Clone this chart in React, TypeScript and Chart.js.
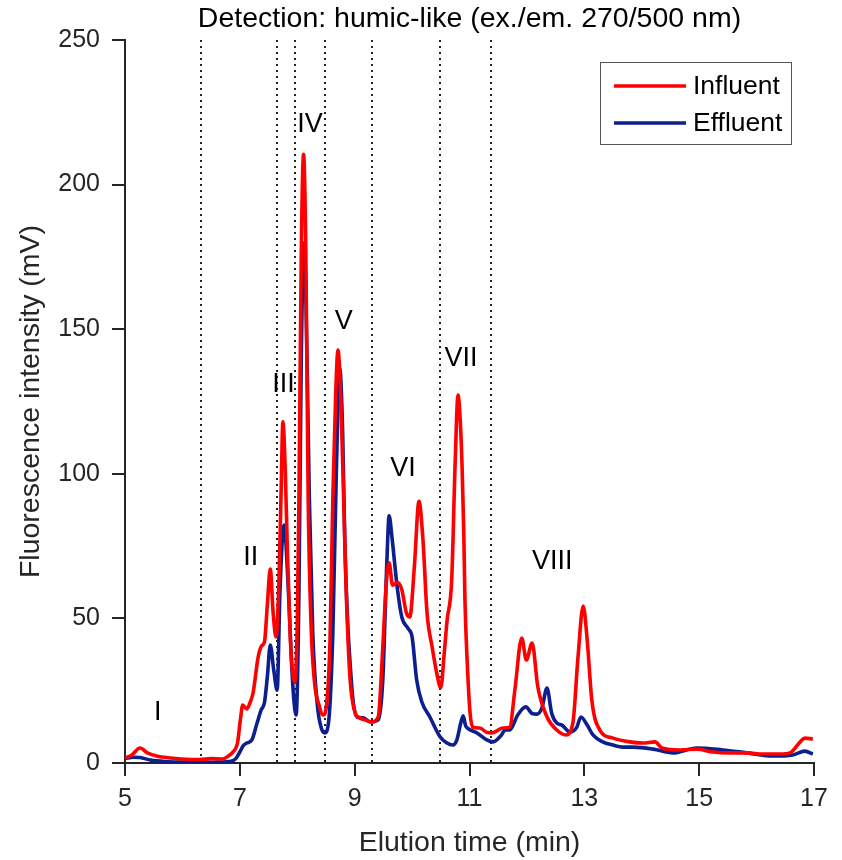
import React, { useEffect, useRef } from 'react';
import { Chart, registerables } from 'chart.js';

Chart.register(...registerables);

// ---- data (elution time in min, fluorescence in mV) ----
const influentTime = [
  5.0, 5.12, 5.26, 5.4, 5.55, 5.8, 6.05, 6.3, 6.5, 6.7, 6.8, 6.88, 6.96, 7.01, 7.05, 7.12, 7.18, 7.23, 7.32, 7.38,
  7.43, 7.48, 7.53, 7.58, 7.63, 7.68, 7.72, 7.75, 7.79, 7.83, 7.88, 7.92, 7.96, 8.0, 8.03, 8.07, 8.11, 8.15, 8.19, 8.24,
  8.3, 8.38, 8.45, 8.52, 8.57, 8.62, 8.67, 8.71, 8.76, 8.81, 8.86, 8.92, 9.01, 9.09, 9.18, 9.3, 9.41, 9.49, 9.55, 9.6,
  9.66, 9.74, 9.82, 9.9, 9.96, 10.04, 10.12, 10.19, 10.26, 10.35, 10.43, 10.5, 10.56, 10.61, 10.69, 10.75, 10.8, 10.84, 10.87, 10.9,
  10.92, 10.96, 11.01, 11.06, 11.18, 11.3, 11.39, 11.58, 11.7, 11.79, 11.91, 11.99, 12.09, 12.19, 12.35, 12.52, 12.68, 12.8, 12.89, 12.98,
  13.05, 13.13, 13.27, 13.5, 13.79, 14.02, 14.23, 14.35, 14.67, 14.96, 15.24, 15.54, 15.83, 16.11, 16.41, 16.58, 16.76, 16.84, 16.98,
];
const influentSignal = [
  1.7, 2.8, 5.2, 3.4, 2.4, 1.7, 1.3, 1.2, 1.5, 1.4, 2.4, 3.8, 7.0, 15.0, 20.0, 18.7, 21.0, 24.2, 36.7, 40.5,
  42.0, 55.0, 67.1, 51.9, 43.6, 62.0, 95.0, 118.0, 102.0, 72.0, 43.0, 31.0, 28.0, 48.0, 92.0, 176.0, 210.5, 176.0, 92.0, 48.0,
  28.0, 20.0, 16.6, 22.0, 42.0, 92.0, 128.0, 142.8, 125.0, 90.0, 55.0, 29.0, 17.3, 15.6, 14.9, 14.2, 15.9, 40.0, 62.0, 69.2,
  61.5, 62.5, 60.0, 52.0, 50.5, 68.0, 90.5, 77.0, 52.0, 40.0, 31.0, 26.0, 38.0, 49.4, 63.3, 103.7, 127.2, 118.0, 103.0, 80.0,
  57.0, 35.0, 17.3, 12.4, 12.1, 10.6, 10.4, 12.1, 12.4, 25.2, 43.2, 35.6, 41.5, 26.3, 15.9, 11.4, 9.7, 13.8, 36.7, 54.3,
  42.5, 21.8, 11.4, 8.6, 7.3, 6.9, 7.3, 5.2, 4.5, 4.8, 3.8, 3.5, 3.5, 3.1, 3.1, 3.5, 7.3, 8.6, 8.3,
];
const effluentTime = [
  5.0, 5.15, 5.26, 5.45, 5.7, 6.0, 6.3, 6.6, 6.85, 6.93, 7.0, 7.06, 7.12, 7.21, 7.3, 7.37, 7.43, 7.48, 7.53, 7.59,
  7.65, 7.7, 7.77, 7.84, 7.9, 7.94, 7.98, 8.03, 8.07, 8.12, 8.17, 8.21, 8.27, 8.35, 8.42, 8.48, 8.55, 8.62, 8.68, 8.74,
  8.79, 8.83, 8.88, 8.92, 8.97, 9.04, 9.15, 9.27, 9.41, 9.49, 9.56, 9.6, 9.65, 9.74, 9.82, 9.93, 10.0, 10.08, 10.17, 10.31,
  10.49, 10.6, 10.71, 10.78, 10.85, 10.89, 10.93, 10.97, 11.13, 11.3, 11.41, 11.55, 11.62, 11.7, 11.84, 11.98, 12.1, 12.17, 12.26, 12.35,
  12.43, 12.52, 12.61, 12.75, 12.87, 12.94, 13.05, 13.15, 13.32, 13.5, 13.67, 13.85, 14.2, 14.54, 14.96, 15.41, 15.83, 16.29, 16.63, 16.84,
  16.98,
];
const effluentSignal = [
  1.5, 2.0, 1.9, 1.0, 0.5, 0.3, 0.2, 0.3, 0.6, 1.5, 3.8, 6.0, 6.9, 8.0, 13.8, 18.3, 21.0, 30.0, 40.8, 32.2,
  25.2, 60.0, 82.3, 62.0, 35.0, 22.0, 16.6, 60.0, 140.0, 179.8, 140.0, 92.0, 45.0, 20.0, 12.0, 10.4, 15.0, 45.0, 100.0, 136.6,
  115.0, 75.0, 48.0, 34.6, 22.0, 15.9, 15.6, 14.2, 14.9, 28.7, 69.2, 85.5, 78.0, 60.9, 50.5, 46.5, 43.6, 28.7, 21.1, 15.9,
  9.0, 7.0, 6.2, 8.0, 14.0, 16.3, 13.0, 12.0, 10.4, 8.0, 7.3, 9.5, 11.4, 11.4, 16.6, 19.4, 17.0, 16.9, 19.0, 25.9,
  17.3, 13.8, 13.1, 10.7, 12.4, 15.9, 13.1, 9.7, 7.3, 6.2, 5.5, 5.5, 4.8, 3.5, 5.2, 4.5, 3.5, 2.4, 2.8, 4.1,
  3.1,
];

const seriesNames = ['Influent', 'Effluent'];
const seriesColors = ['#ff0000', '#0d1f8f'];

const regionBounds = [6.32, 7.65, 7.96, 8.48, 9.3, 10.49, 11.37];
const regionNames = ['I', 'II', 'III', 'IV', 'V', 'VI', 'VII', 'VIII'];
const regionNameTime = [5.57, 7.19, 7.76, 8.22, 8.81, 9.84, 10.85, 12.44];
const regionNameLevel = [17.6, 70.9, 130.7, 220.6, 152.5, 101.7, 139.7, 69.5];

const xTicks = [5, 7, 9, 11, 13, 15, 17];
const yTicks = [0, 50, 100, 150, 200, 250];

const chartTitle = 'Detection: humic-like (ex./em. 270/500 nm)';
const xTitle = 'Elution time (min)';
const yTitle = 'Fluorescence intensity (mV)';

const FONT = '"Liberation Sans", Arial, Helvetica, sans-serif';
const AXIS_COLOR = '#262626';

const decorPlugin = {
  id: 'decor',
  beforeDatasetsDraw(chart: any) {
    const { ctx, chartArea, scales } = chart;
    const x = scales.x;
    ctx.save();
    ctx.strokeStyle = '#222222';
    ctx.lineWidth = 2;
    ctx.setLineDash([2, 4]);
    regionBounds.forEach((t) => {
      const px = Math.round(x.getPixelForValue(t));
      ctx.beginPath();
      ctx.moveTo(px, chartArea.top);
      ctx.lineTo(px, chartArea.bottom);
      ctx.stroke();
    });
    ctx.restore();
  },
  afterDatasetsDraw(chart: any) {
    const { ctx, chartArea, scales } = chart;
    const x = scales.x;
    const y = scales.y;
    ctx.save();
    // region labels
    ctx.fillStyle = '#000000';
    ctx.font = `27px ${FONT}`;
    ctx.textAlign = 'center';
    ctx.textBaseline = 'middle';
    regionNames.forEach((name, i) => {
      ctx.fillText(name, x.getPixelForValue(regionNameTime[i]), y.getPixelForValue(regionNameLevel[i]));
    });
    // title
    ctx.font = `28.5px ${FONT}`;
    ctx.fillText(chartTitle, (chartArea.left + chartArea.right) / 2, 19);
    // legend
    const boxRight = chartArea.right - 23;
    const boxTop = chartArea.top + 22;
    const boxW = 191;
    const boxH = 82;
    const boxLeft = boxRight - boxW;
    ctx.fillStyle = '#ffffff';
    ctx.fillRect(boxLeft, boxTop, boxW, boxH);
    ctx.strokeStyle = '#555555';
    ctx.lineWidth = 1;
    ctx.strokeRect(boxLeft + 0.5, boxTop + 0.5, boxW, boxH);
    ctx.font = `26.5px ${FONT}`;
    ctx.textAlign = 'left';
    seriesNames.forEach((name, i) => {
      const ly = boxTop + 24 + i * 37;
      ctx.strokeStyle = seriesColors[i];
      ctx.lineWidth = 3.5;
      ctx.beginPath();
      ctx.moveTo(boxLeft + 14, ly);
      ctx.lineTo(boxLeft + 86, ly);
      ctx.stroke();
      ctx.fillStyle = '#000000';
      ctx.fillText(name, boxLeft + 93, ly + 1);
    });
    ctx.restore();
  },
};

export default function App() {
  const canvasRef = useRef<HTMLCanvasElement | null>(null);

  useEffect(() => {
    const canvas = canvasRef.current;
    if (!canvas) return;
    const chart = new Chart(canvas, {
      type: 'line',
      data: {
        datasets: [
          {
            label: seriesNames[0],
            data: influentTime.map((t, i) => ({ x: t, y: influentSignal[i] })),
            borderColor: seriesColors[0],
            borderWidth: 3.6,
            pointRadius: 0,
            fill: false,
            cubicInterpolationMode: 'monotone',
          },
          {
            label: seriesNames[1],
            data: effluentTime.map((t, i) => ({ x: t, y: effluentSignal[i] })),
            borderColor: seriesColors[1],
            borderWidth: 3.6,
            pointRadius: 0,
            fill: false,
            cubicInterpolationMode: 'monotone',
          },
        ],
      },
      options: {
        animation: false,
        responsive: false,
        devicePixelRatio: 1,
        layout: { padding: { top: 40, right: 28, left: 0, bottom: 0 } },
        plugins: {
          legend: { display: false },
          title: { display: false },
          tooltip: { enabled: false },
        },
        scales: {
          x: {
            type: 'linear',
            min: 5,
            max: 17,
            afterBuildTicks: (s: any) => {
              s.ticks = xTicks.map((v) => ({ value: v }));
            },
            afterFit: (s: any) => {
              s.height = 97;
            },
            grid: {
              drawOnChartArea: false,
              drawTicks: true,
              tickLength: 13,
              color: AXIS_COLOR,
              lineWidth: 2,
            },
            border: { display: true, color: AXIS_COLOR, width: 2 },
            ticks: {
              color: AXIS_COLOR,
              font: { family: FONT, size: 25 },
              padding: 8,
              maxRotation: 0,
              autoSkip: false,
            },
            title: {
              display: true,
              text: xTitle,
              color: AXIS_COLOR,
              font: { family: FONT, size: 28.5 },
              padding: { top: 0, bottom: 0 },
            },
          },
          y: {
            type: 'linear',
            min: 0,
            max: 250,
            afterBuildTicks: (s: any) => {
              s.ticks = yTicks.map((v) => ({ value: v }));
            },
            afterFit: (s: any) => {
              s.width = 125;
            },
            grid: {
              drawOnChartArea: false,
              drawTicks: true,
              tickLength: 13,
              color: AXIS_COLOR,
              lineWidth: 2,
            },
            border: { display: true, color: AXIS_COLOR, width: 2 },
            ticks: {
              color: AXIS_COLOR,
              font: { family: FONT, size: 25 },
              padding: 12,
              autoSkip: false,
            },
            title: {
              display: true,
              text: yTitle,
              color: AXIS_COLOR,
              font: { family: FONT, size: 28.5 },
              padding: { top: 14, bottom: 0 },
            },
          },
        },
      },
      plugins: [decorPlugin],
    });
    return () => chart.destroy();
  }, []);

  return (
    <div style={{ position: 'fixed', left: 0, top: 0, width: 842, height: 860, background: '#ffffff' }}>
      <canvas ref={canvasRef} width={842} height={860} style={{ width: 842, height: 860 }} />
    </div>
  );
}
